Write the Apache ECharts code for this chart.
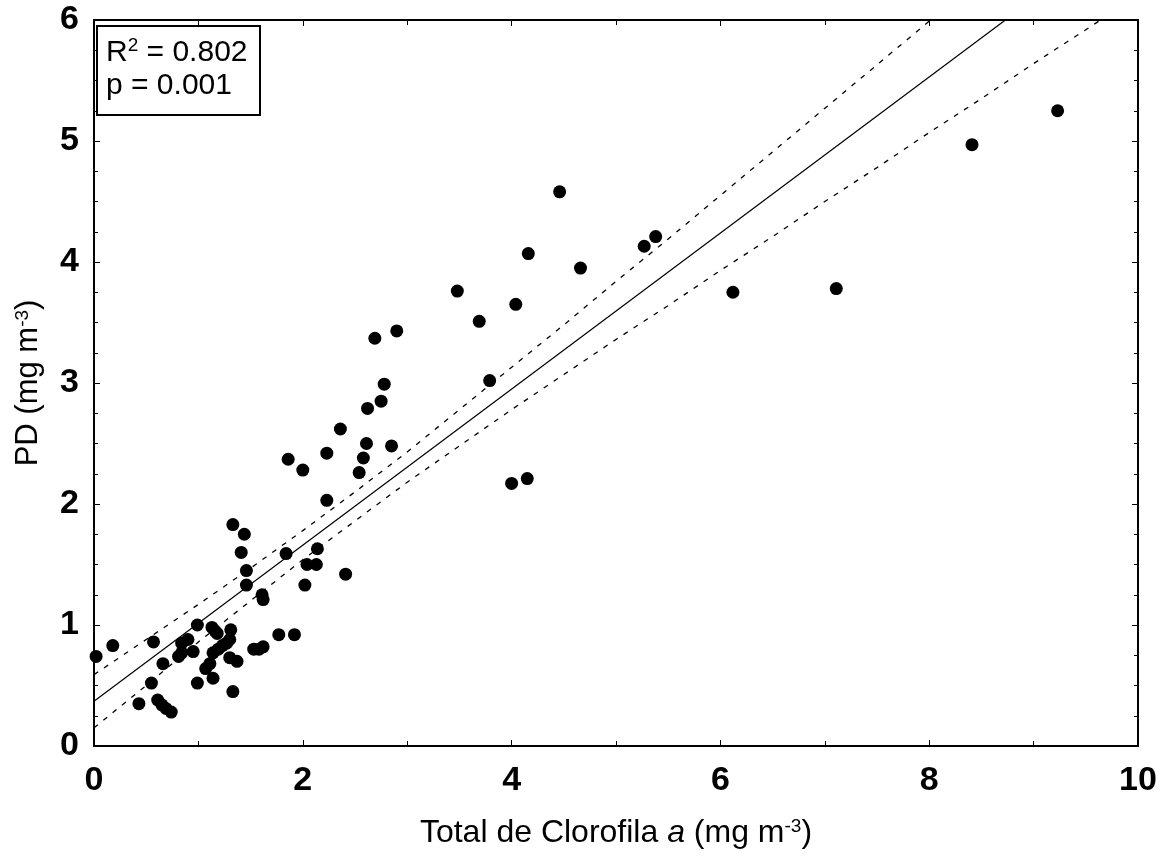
<!DOCTYPE html>
<html>
<head>
<meta charset="utf-8">
<script src="https://cdn.jsdelivr.net/npm/echarts@6/dist/echarts.min.js"></script>
<style>
  html, body { margin: 0; padding: 0; background: #fff; }
  #chart { width: 1162px; height: 857px; }
</style>
</head>
<body>
<div id="chart"></div>
<script>
// Total chlorophyll a (x) against PD (y), one entry per sample
const chlTotal = [
  0.02, 0.18, 0.57, 0.55, 0.43, 0.61, 0.65, 0.69, 0.74, 0.66,
  0.81, 0.84, 0.90, 0.84, 0.95, 0.99, 0.99, 1.07, 1.11, 1.14,
  1.13, 1.16, 1.18, 1.14, 1.19, 1.23, 1.27, 1.30, 1.31, 1.30,
  1.37, 1.33, 1.33, 1.44, 1.41, 1.46, 1.46, 1.61, 1.62, 1.53,
  1.58, 1.62, 1.77, 1.92, 1.84, 2.02, 2.04, 2.13, 2.14, 2.41,
  2.23, 1.86, 2.00, 2.23, 2.36, 2.54, 2.58, 2.61, 2.62, 2.75,
  2.78, 2.85, 2.69, 2.90, 3.48, 3.69, 3.79, 4.04, 4.16, 4.46,
  4.66, 5.27, 5.38, 4.00, 4.15, 6.12, 7.11, 8.41, 9.23
];
const pdValues = [
  0.74, 0.83, 0.86, 0.52, 0.35, 0.38, 0.34, 0.31, 0.28, 0.68,
  0.74, 0.85, 0.88, 0.77, 0.78, 1.00, 0.52, 0.64, 0.68, 0.56,
  0.98, 0.95, 0.93, 0.77, 0.80, 0.83, 0.85, 0.88, 0.96, 0.73,
  0.70, 0.45, 1.83, 1.75, 1.60, 1.45, 1.33, 1.25, 1.21, 0.80,
  0.80, 0.82, 0.92, 0.92, 1.59, 1.33, 1.50, 1.50, 1.63, 1.42,
  2.03, 2.37, 2.28, 2.42, 2.62, 2.26, 2.38, 2.50, 2.79, 2.85,
  2.99, 2.48, 3.37, 3.43, 3.76, 3.51, 3.02, 3.65, 4.07, 4.58,
  3.95, 4.13, 4.21, 2.17, 2.21, 3.75, 3.78, 4.97, 5.25
];

// Fitted regression line (end points)
const fitX = [0, 8.73];
const fitY = [0.37, 6.0];

// 95% confidence band around the fit
const bandX = [0, 0.5, 1, 1.5, 2, 2.5, 3, 3.5, 4, 4.5, 5, 5.5, 6, 6.5, 7, 7.5, 8, 8.5, 9, 9.5, 10];
const bandUpper = [0.59, 0.88, 1.17, 1.47, 1.78, 2.10, 2.43, 2.78, 3.13, 3.48, 3.84, 4.19, 4.55, 4.91, 5.27, 5.63, 5.99, 6.35, 6.72, 7.08, 7.44];
const bandLower = [0.15, 0.50, 0.86, 1.20, 1.54, 1.86, 2.18, 2.48, 2.78, 3.07, 3.36, 3.64, 3.93, 4.21, 4.50, 4.78, 5.07, 5.35, 5.64, 5.92, 6.20];

const statLines = ['R', '2', ' = 0.802', 'p = 0.001'];

const zip = (xs, ys) => xs.map((x, i) => [x, ys[i]]);

const FONT = 'Liberation Sans, Arial, sans-serif';
const tickLabel = { fontFamily: FONT, fontWeight: 'bold', fontSize: 34, color: '#000' };
const axisLine = { show: true, onZero: false, lineStyle: { color: '#000', width: 2 } };
const tickStyle = { color: '#000', width: 1 };

const chart = echarts.init(document.getElementById('chart'), null, { renderer: 'canvas' });

chart.setOption({
  backgroundColor: '#fff',
  animation: false,
  title: {
    left: 97,
    top: 26,
    padding: [10, 13, 15, 9],
    borderColor: '#000',
    borderWidth: 2,
    backgroundColor: '#fff',
    text: '{a|' + statLines[0] + '}{s|' + statLines[1] + '}{a|' + statLines[2] + '}\n{a|' + statLines[3] + '}',
    textStyle: {
      fontWeight: 'normal',
      rich: {
        a: { fontFamily: FONT, fontWeight: 'normal', fontSize: 30, lineHeight: 33, color: '#000' },
        s: { fontFamily: FONT, fontWeight: 'normal', fontSize: 19, lineHeight: 26, verticalAlign: 'top', color: '#000' }
      }
    }
  },
  grid: { left: 94, right: 24, top: 20, bottom: 111 },
  xAxis: [
    {
      type: 'value', min: 0, max: 10, interval: 2,
      name: '{a|Total de Clorofila }{i|a}{a| (mg m}{s|-3}{a|)}',
      nameLocation: 'middle', nameGap: 71,
      nameTextStyle: {
        rich: {
          a: { fontFamily: FONT, fontSize: 32, color: '#000' },
          i: { fontFamily: FONT, fontSize: 32, fontStyle: 'italic', color: '#000' },
          s: { fontFamily: FONT, fontSize: 19, verticalAlign: 'top', color: '#000' }
        }
      },
      axisLine: axisLine,
      axisTick: { show: true, inside: true, length: 6, lineStyle: tickStyle },
      minorTick: { show: true, splitNumber: 2, length: 5, lineStyle: tickStyle },
      axisLabel: Object.assign({ margin: 18 }, tickLabel),
      splitLine: { show: false }
    },
    {
      type: 'value', position: 'top', min: 0, max: 10, interval: 2,
      axisLine: axisLine,
      axisTick: { show: true, inside: true, length: 6, lineStyle: tickStyle },
      minorTick: { show: true, splitNumber: 2, length: 5, lineStyle: tickStyle },
      axisLabel: { show: false },
      splitLine: { show: false }
    }
  ],
  yAxis: [
    {
      type: 'value', min: 0, max: 6, interval: 1,
      name: '{a|PD (mg m}{s|-3}{a|)}',
      nameLocation: 'middle', nameGap: 50,
      nameTextStyle: {
        rich: {
          a: { fontFamily: FONT, fontSize: 31, color: '#000' },
          s: { fontFamily: FONT, fontSize: 19, verticalAlign: 'top', color: '#000' }
        }
      },
      axisLine: axisLine,
      axisTick: { show: true, inside: true, length: 6, lineStyle: tickStyle },
      minorTick: { show: true, splitNumber: 4, length: 4, lineStyle: tickStyle },
      axisLabel: Object.assign({ margin: 15 }, tickLabel),
      splitLine: { show: false }
    },
    {
      type: 'value', position: 'right', min: 0, max: 6, interval: 1,
      axisLine: axisLine,
      axisTick: { show: true, inside: true, length: 6, lineStyle: tickStyle },
      minorTick: { show: true, splitNumber: 4, length: 4, lineStyle: tickStyle },
      axisLabel: { show: false },
      splitLine: { show: false }
    }
  ],
  series: [
    {
      name: 'Upper 95%', type: 'line', data: zip(bandX, bandUpper),
      showSymbol: false, clip: true, z: 2,
      lineStyle: { color: '#000', width: 1.3, type: [5, 7] }
    },
    {
      name: 'Lower 95%', type: 'line', data: zip(bandX, bandLower),
      showSymbol: false, clip: true, z: 2,
      lineStyle: { color: '#000', width: 1.3, type: [5, 7] }
    },
    {
      name: 'Fit', type: 'line', data: zip(fitX, fitY),
      showSymbol: false, clip: true, z: 2,
      lineStyle: { color: '#000', width: 1.2 }
    },
    {
      name: 'PD', type: 'scatter', data: zip(chlTotal, pdValues),
      symbol: 'circle', symbolSize: 13, z: 3,
      itemStyle: { color: '#000', opacity: 1 }
    }
  ]
});
</script>
</body>
</html>
